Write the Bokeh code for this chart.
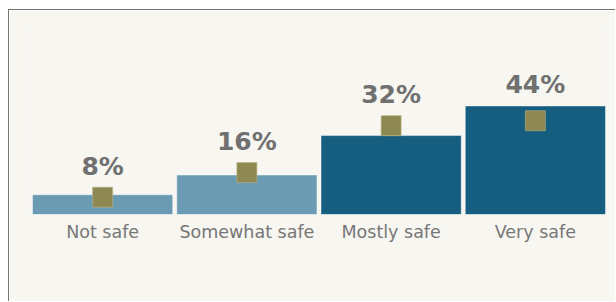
from bokeh.plotting import figure
from bokeh.models import FactorRange, Range1d, ColumnDataSource
from bokeh.embed import file_html
from bokeh.resources import INLINE
from bokeh.core.properties import value

categories = ["Not safe", "Somewhat safe", "Mostly safe", "Very safe"]
values = [8, 16, 32, 44]
markers = [7, 17, 36, 38]
labels = ["8%", "16%", "32%", "44%"]
bar_colors = ["#6b9bb3", "#6b9bb3", "#165e80", "#165e80"]

BG = "#f7f6f0"
W, H = 607, 292
top_b, bot_b = 19, 88
ymax = 75.0
frame_h = H - top_b - bot_b
k = frame_h / ymax  # px per unit
sq = 20
gap = 11

label_y = [max(v, m + (sq / 2) / k) + gap / k for v, m in zip(values, markers)]

src = ColumnDataSource(dict(cat=categories, val=values, mk=markers,
                            lab=labels, ly=label_y, col=bar_colors))

p = figure(width=W, height=H, x_range=FactorRange(factors=categories, range_padding=0),
           y_range=Range1d(0, ymax), output_backend="svg", toolbar_location=None,
           min_border_left=21, min_border_right=9, min_border_top=top_b, min_border_bottom=bot_b)
p.background_fill_color = BG
p.border_fill_color = BG
p.outline_line_color = None
p.styles = {"border-left": "1px solid #747474", "border-top": "1px solid #747474",
            "margin-left": "8px", "margin-top": "9px"}

p.vbar(x="cat", top="val", width=0.972, fill_color="col", line_color="white",
       line_alpha=0.45, line_width=1, source=src)
p.scatter(x="cat", y="mk", marker="square", size=sq, fill_color="#8e8852",
          line_color="#b8b27e", line_width=1, line_alpha=0.6, source=src)
p.text(x="cat", y="ly", text="lab", source=src, text_align="center",
       text_baseline="alphabetic", y_offset=-10, text_font=value("DejaVu Sans"),
       text_font_style="bold", text_font_size="25px", text_color="#707070")

p.yaxis.visible = False
p.xgrid.visible = False
p.ygrid.visible = False
p.xaxis.axis_line_color = None
p.xaxis.major_tick_line_color = None
p.xaxis.minor_tick_line_color = None
p.xaxis.major_tick_out = 0
p.xaxis.major_label_standoff = 7
p.xaxis.major_label_text_font = "DejaVu Sans"
p.xaxis.major_label_text_font_size = "17.5px"
p.xaxis.major_label_text_color = "#777777"

open("out.html", "w").write(file_html(p, INLINE))
